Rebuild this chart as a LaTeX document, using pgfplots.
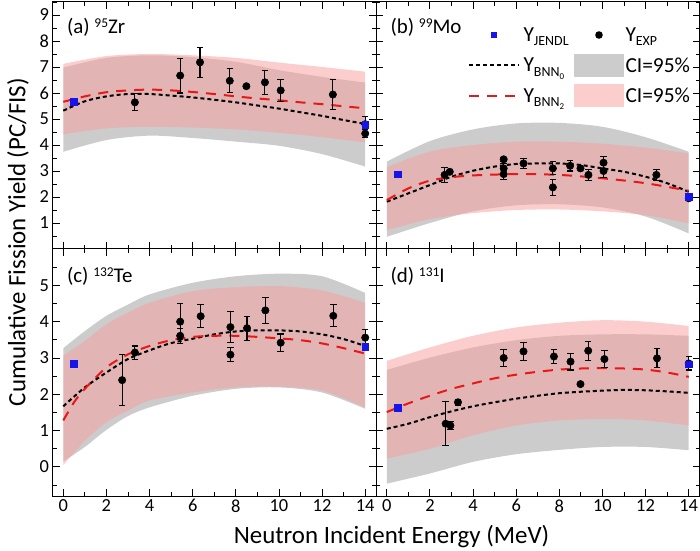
\documentclass[border=0pt]{standalone}
\usepackage{fontspec}
\setmainfont{Carlito}
\usepackage{pgfplots}
\pgfplotsset{compat=1.18}
\usepgfplotslibrary{fillbetween}
\definecolor{cigray}{RGB}{204,204,204}
\definecolor{cipink}{RGB}{249,160,160}
\definecolor{bnnred}{RGB}{232,24,24}
\definecolor{jblue}{RGB}{20,20,235}
\newcommand{\up}[1]{\raisebox{6bp}{\fontsize{13.5}{14}\selectfont #1}}
\newcommand{\dn}[1]{\raisebox{-4.5bp}{\fontsize{14}{14}\selectfont #1}}
\newcommand{\ddn}[1]{\raisebox{-3bp}{\fontsize{9}{9}\selectfont #1}}
\newcommand{\lta}[1]{\makebox[49bp][l]{#1}}
\newcommand{\ltb}[1]{\makebox[64bp][l]{#1}}
\tikzset{panellabel/.style={anchor=base west, font=\fontsize{21}{24}\selectfont}}
\pgfplotsset{
  panel/.style={
    scale only axis, width=323.5bp, height=247bp,
    xmin=-0.5, xmax=14.5,
    xtick={0,2,...,14}, minor xtick={1,3,...,13},
    tick align=inside, tick pos=both,
    major tick length=7bp, minor tick length=4bp,
    major tick style={line width=0.9bp, black},
    minor tick style={line width=0.9bp, black},
    axis line style={line width=1bp, black},
    tick label style={font=\fontsize{18.5}{20}\selectfont},
    /pgf/number format/assume math mode=true,
    axis on top,
  },
  bnn0/.style={black, line width=2bp, dash pattern=on 4bp off 3bp, smooth, forget plot},
  bnn2/.style={bnnred, line width=2bp, dash pattern=on 10bp off 8bp, smooth, forget plot},
  expst/.style={only marks, mark=*, mark size=3.7bp, black, mark options={fill=black, draw=black, line width=0.5bp}, forget plot,
    error bars/.cd, y dir=both, y explicit,
    error bar style={line width=1.1bp, black},
    error mark options={rotate=90, mark size=3.2bp, line width=1.1bp, black}},
  jendl/.style={only marks, mark=square*, mark size=3.4bp, jblue, mark options={fill=jblue, draw=jblue}, forget plot},
  edge/.style={draw=none, smooth, forget plot},
}
\begin{document}
\begin{tikzpicture}
% ---------------- (c) 132Te
\begin{axis}[panel, at={(0,0)}, anchor=south west,
  ymin=-0.8, ymax=6, ytick={0,...,5}, minor ytick={-0.5,0.5,...,5.5}]
\addplot[edge, name path=cgu] coordinates {(0,3.27)(1,3.74)(2,4.16)(3,4.47)(4,4.75)(6,5.07)(8,5.25)(10,5.32)(12,5.25)(14,4.79)};
\addplot[edge, name path=cgl] coordinates {(0,0.15)(1,0.55)(2,1.02)(3,1.40)(4,1.64)(6,1.96)(8,2.15)(10,2.19)(12,2.05)(14,1.60)};
\addplot[cigray, forget plot] fill between[of=cgu and cgl];
\addplot[edge, name path=cpu] coordinates {(0,3.06)(1,3.47)(2,3.93)(3,4.25)(4,4.52)(6,4.84)(8,4.95)(10,4.98)(12,4.86)(14,4.52)};
\addplot[edge, name path=cpl] coordinates {(0,0.05)(1,0.72)(2,1.23)(3,1.55)(4,1.83)(6,2.05)(8,2.19)(10,2.21)(12,2.10)(14,1.64)};
\addplot[cipink, fill opacity=0.53, forget plot] fill between[of=cpu and cpl];
\addplot[bnn0] coordinates {(0,1.67)(1,2.19)(2,2.6)(3,2.97)(4,3.21)(5,3.41)(6,3.53)(7,3.65)(8,3.73)(9,3.76)(10,3.76)(11,3.73)(12,3.65)(13,3.52)(14,3.33)};
\addplot[bnn2] coordinates {(0,1.28)(0.5,1.78)(1,2.15)(2,2.74)(3,3.1)(4,3.33)(5,3.49)(6,3.58)(7,3.61)(8,3.61)(9,3.58)(10,3.54)(11,3.49)(12,3.4)(13,3.27)(14,3.12)};
\addplot[expst] coordinates {
 (2.73,2.39) +- (0,0.70)
 (3.32,3.15) +- (0,0.18)
 (5.42,4.00) +- (0,0.50)
 (5.42,3.61) +- (0,0.20)
 (6.37,4.15) +- (0,0.31)
 (7.75,3.85) +- (0,0.43)
 (7.75,3.09) +- (0,0.19)
 (8.52,3.82) +- (0,0.33)
 (9.37,4.31) +- (0,0.35)
 (10.08,3.42) +- (0,0.24)
 (12.52,4.16) +- (0,0.30)
 (14,3.56) +- (0,0.22)};
\addplot[jendl] coordinates {(0.5,2.85)(14,3.31)};
\node[panellabel] at (rel axis cs:0,1) [xshift=11bp, yshift=-33bp] {(c) \up{132}Te};
\end{axis}
% ---------------- (d) 131I
\begin{axis}[panel, at={(323.5bp,0)}, anchor=south west,
  ymin=-0.8, ymax=6, ytick={0,...,5}, minor ytick={-0.5,0.5,...,5.5}, yticklabels={}]
\addplot[edge, name path=dgu] coordinates {(0,2.67)(2,3.01)(4,3.29)(6,3.49)(8,3.61)(10,3.65)(12,3.65)(14,3.61)};
\addplot[edge, name path=dgl] coordinates {(0,-0.46)(2,-0.18)(4,0.14)(6,0.35)(8,0.47)(10,0.55)(12,0.55)(14,0.46)};
\addplot[cigray, forget plot] fill between[of=dgu and dgl];
\addplot[edge, name path=dpu] coordinates {(0,2.92)(2,3.29)(4,3.61)(6,3.84)(8,3.97)(10,4.04)(12,4.0)(14,3.88)};
\addplot[edge, name path=dpl] coordinates {(0,0.23)(2,0.5)(4,0.87)(6,1.14)(8,1.28)(10,1.32)(12,1.28)(14,1.14)};
\addplot[cipink, fill opacity=0.53, forget plot] fill between[of=dpu and dpl];
\addplot[bnn0] coordinates {(0,1.05)(1,1.19)(2,1.37)(3,1.53)(4,1.67)(5,1.78)(6,1.88)(7,1.96)(8,2.03)(9,2.07)(10,2.10)(11,2.12)(12,2.11)(13,2.08)(14,2.04)};
\addplot[bnn2] coordinates {(0,1.51)(1,1.75)(2,1.96)(3,2.15)(4,2.30)(5,2.44)(6,2.54)(7,2.62)(8,2.68)(9,2.71)(10,2.72)(11,2.71)(12,2.68)(13,2.60)(14,2.48)};
\addplot[expst] coordinates {
 (2.73,1.19) +- (0,0.60)
 (2.95,1.14) +- (0,0.12)
 (3.30,1.78) +- (0,0.08)
 (5.42,3.00) +- (0,0.24)
 (6.34,3.18) +- (0,0.25)
 (7.75,3.04) +- (0,0.20)
 (8.52,2.90) +- (0,0.23)
 (8.98,2.28) +- (0,0.0)
 (9.34,3.20) +- (0,0.26)
 (10.09,2.97) +- (0,0.24)
 (12.53,2.99) +- (0,0.26)
 (14,2.85) +- (0,0.18)};
\addplot[jendl] coordinates {(0.5,1.62)(14,2.83)};
\node[panellabel] at (rel axis cs:0,1) [xshift=11bp, yshift=-33bp] {(d) \up{131}I};
\end{axis}
% ---------------- (a) 95Zr
\begin{axis}[panel, at={(0,247bp)}, anchor=south west,
  ymin=0, ymax=9.5, ytick={1,...,9}, minor ytick={0.5,1.5,...,9}, xticklabels={}]
\addplot[edge, name path=agu] coordinates {(0,6.98)(2,7.35)(4,7.45)(6,7.38)(8,7.2)(10,6.88)(12,6.62)(14,6.4)};
\addplot[edge, name path=agl] coordinates {(0,3.74)(2,4.19)(4,4.36)(6,4.27)(8,4.13)(10,3.97)(12,3.65)(14,3.17)};
\addplot[cigray, forget plot] fill between[of=agu and agl];
\addplot[edge, name path=apu] coordinates {(0,7.12)(2,7.42)(4,7.5)(6,7.45)(8,7.35)(10,7.17)(12,7.0)(14,6.82)};
\addplot[edge, name path=apl] coordinates {(0,4.41)(2,4.64)(4,4.70)(6,4.67)(8,4.60)(10,4.47)(12,4.30)(14,4.10)};
\addplot[cipink, fill opacity=0.53, forget plot] fill between[of=apu and apl];
\addplot[bnn0] coordinates {(0,5.32)(1,5.68)(2,5.87)(3,5.96)(4,5.96)(5,5.9)(6,5.83)(7,5.74)(8,5.64)(9,5.52)(10,5.40)(11,5.26)(12,5.12)(13,4.96)(14,4.81)};
\addplot[bnn2] coordinates {(0,5.66)(1,5.87)(2,6.03)(3,6.10)(4,6.13)(5,6.10)(6,6.04)(7,5.96)(8,5.87)(9,5.79)(10,5.72)(11,5.64)(12,5.57)(13,5.49)(14,5.41)};
\addplot[expst] coordinates {
 (3.32,5.64) +- (0,0.33)
 (5.42,6.67) +- (0,0.67)
 (6.34,7.18) +- (0,0.57)
 (7.72,6.47) +- (0,0.46)
 (8.49,6.26) +- (0,0.0)
 (9.35,6.41) +- (0,0.46)
 (10.08,6.10) +- (0,0.42)
 (12.5,5.94) +- (0,0.58)
 (14,4.44) +- (0,0.15)
 (14,4.80) +- (0,0.30)};
\addplot[jendl] coordinates {(0.5,5.68)(14,4.78)};
\node[panellabel] at (rel axis cs:0,1) [xshift=11bp, yshift=-32bp] {(a) \up{95}Zr};
\end{axis}
% ---------------- (b) 99Mo
\begin{axis}[panel, at={(323.5bp,247bp)}, anchor=south west,
  ymin=0, ymax=9.5, ytick={1,...,9}, minor ytick={0.5,1.5,...,9}, xticklabels={}, yticklabels={},
  legend columns=2,
  legend style={draw=none, fill=none, at={(rel axis cs:0,1)}, anchor=north west,
    xshift=92bp, yshift=-21.5bp, inner sep=0pt, outer sep=0pt, row sep=7.5bp, column sep=0pt,
    font=\fontsize{21.5}{24}\selectfont, cells={anchor=west}, nodes={inner xsep=1.5bp, inner ysep=0bp, anchor=west}}]
\addplot[edge, name path=bgu] coordinates {(0,3.36)(2,4.15)(4,4.6)(6,4.83)(8,4.85)(10,4.7)(12,4.3)(14,3.74)};
\addplot[edge, name path=bgl] coordinates {(0,0.47)(2,1.0)(4,1.45)(6,1.68)(8,1.72)(10,1.6)(12,1.25)(14,0.6)};
\addplot[cigray, forget plot] fill between[of=bgu and bgl];
\addplot[edge, name path=bpu] coordinates {(0,3.15)(2,3.75)(4,4.0)(6,4.13)(8,4.13)(10,4.05)(12,3.9)(14,3.68)};
\addplot[edge, name path=bpl] coordinates {(0,0.73)(2,1.15)(4,1.38)(6,1.5)(8,1.52)(10,1.45)(12,1.3)(14,0.99)};
\addplot[cipink, fill opacity=0.53, forget plot] fill between[of=bpu and bpl];
\addplot[bnn0] coordinates {(0,1.82)(1,2.14)(2,2.46)(3,2.78)(4,3.01)(5,3.17)(6,3.27)(7,3.29)(8,3.29)(9,3.23)(10,3.10)(11,2.97)(12,2.78)(13,2.53)(14,2.2)};
\addplot[bnn2] coordinates {(0,1.88)(1,2.33)(2,2.63)(3,2.76)(4,2.83)(6,2.88)(8,2.85)(10,2.72)(12,2.53)(14,2.24)};
\addplot[expst] coordinates {
 (2.68,2.85) +- (0,0.30)
 (2.92,2.97) +- (0,0.05)
 (5.42,3.45) +- (0,0.08)
 (5.42,3.10) +- (0,0.20)
 (5.42,2.88) +- (0,0.20)
 (6.34,3.29) +- (0,0.20)
 (7.70,3.10) +- (0,0.25)
 (7.70,2.37) +- (0,0.30)
 (8.50,3.20) +- (0,0.20)
 (8.98,3.10) +- (0,0.0)
 (9.35,2.85) +- (0,0.20)
 (10.05,3.32) +- (0,0.25)
 (10.05,3.00) +- (0,0.25)
 (12.5,2.85) +- (0,0.20)
 (14,1.95) +- (0,0.05)};
\addplot[jendl] coordinates {(0.5,2.88)(14,2.01)};
\addlegendimage{legend image code/.code={\path[draw=none, fill=none] (0bp,-11.5bp) rectangle (50bp,11.5bp); \path[draw=none, fill=jblue] (22bp,-3bp) rectangle (28bp,3bp);}}
\addlegendentry{\lta{Y\dn{JENDL}}}
\addlegendimage{legend image code/.code={\path[draw=none, fill=none] (0bp,-11.5bp) rectangle (50bp,11.5bp); \path[draw=none, fill=black] (25bp,0bp) circle (3.8bp);}}
\addlegendentry{\ltb{Y\dn{EXP}}}
\addlegendimage{legend image code/.code={\path[draw=none, fill=none] (0bp,-11.5bp) rectangle (50bp,11.5bp); \path[draw=black, fill=none, line width=2bp, dash pattern=on 4bp off 3bp] (0bp,0bp) -- (50bp,0bp);}}
\addlegendentry{\lta{Y\dn{BNN\ddn{0}}}}
\addlegendimage{legend image code/.code={\path[draw=none, fill=cigray] (0bp,-11.5bp) rectangle (50bp,11.5bp);}}
\addlegendentry{\ltb{CI=95\%}}
\addlegendimage{legend image code/.code={\path[draw=none, fill=none] (0bp,-11.5bp) rectangle (50bp,11.5bp); \path[draw=bnnred, fill=none, line width=2bp, dash pattern=on 10bp off 8bp] (0bp,0bp) -- (52bp,0bp);}}
\addlegendentry{\lta{Y\dn{BNN\ddn{2}}}}
\addlegendimage{legend image code/.code={\path[draw=none, fill=cipink, fill opacity=0.53] (0bp,-11.5bp) rectangle (50bp,11.5bp);}}
\addlegendentry{\ltb{CI=95\%}}
\node[panellabel] at (rel axis cs:0,1) [xshift=11bp, yshift=-32bp] {(b) \up{99}Mo};
\end{axis}
\node[rotate=90, font=\fontsize{25}{28}\selectfont] at (-34.5bp,254bp) {Cumulative Fission Yield (PC/FIS)};
\node[font=\fontsize{25}{28}\selectfont] at (339bp,-41bp) {Neutron Incident Energy (MeV)};
\pgfresetboundingbox
\path[use as bounding box] (-52.5bp,-55bp) rectangle (647.5bp,496bp);
\end{tikzpicture}
\end{document}
